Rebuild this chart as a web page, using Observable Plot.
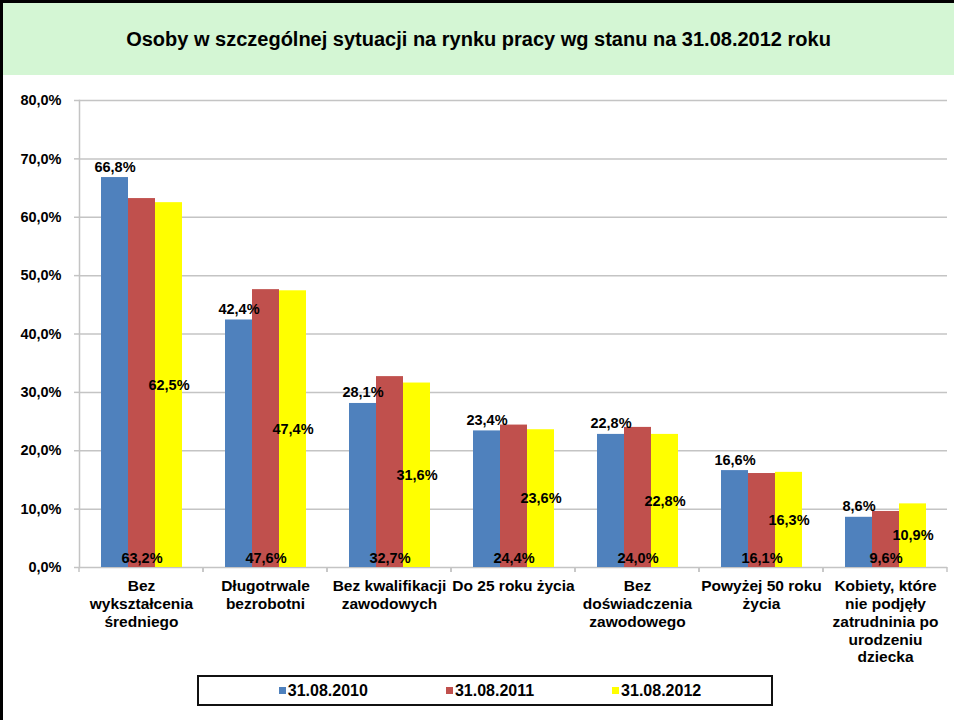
<!DOCTYPE html>
<html><head><meta charset="utf-8">
<script src="https://cdn.jsdelivr.net/npm/d3@7"></script>
<script src="https://cdn.jsdelivr.net/npm/@observablehq/plot@0.6"></script>
<style>
html,body{margin:0;padding:0;background:#fff;overflow:hidden;}
#wrap{position:relative;width:954px;height:720px;box-sizing:border-box;border-left:3px solid #000;border-top:3px solid #000;font-family:"Liberation Sans",Arial,sans-serif;color:#000;}
#title{height:72px;background:#d4f6d4;display:flex;align-items:center;justify-content:center;font-weight:bold;font-size:20px;}
#chart svg{display:block;}
#legend{position:absolute;left:194px;top:672px;width:576px;height:31px;box-sizing:border-box;border:2px solid #111;display:flex;align-items:center;justify-content:center;gap:78px;padding-left:10px;font-weight:bold;font-size:16px;}
#legend .it{display:flex;align-items:center;}
#legend .sw{width:7px;height:7px;margin-right:2px;display:inline-block;}
</style></head>
<body>
<div id="wrap">
  <div id="title">Osoby w szczególnej sytuacji na rynku pracy wg stanu na 31.08.2012 roku</div>
  <div id="chart"></div>
  <div id="legend"></div>
</div>
<script>
const categories = [
  "Bez wykształcenia średniego",
  "Długotrwale bezrobotni",
  "Bez kwalifikacji zawodowych",
  "Do 25 roku życia",
  "Bez doświadczenia zawodowego",
  "Powyżej 50 roku życia",
  "Kobiety, które nie podjęły zatrudninia po urodzeniu dziecka"
];
const tickLabels = [
  "Bez\nwykształcenia\nśredniego",
  "Długotrwale\nbezrobotni",
  "Bez kwalifikacji\nzawodowych",
  "Do 25 roku życia",
  "Bez\ndoświadczenia\nzawodowego",
  "Powyżej 50 roku\nżycia",
  "Kobiety, które\nnie podjęły\nzatrudninia po\nurodzeniu\ndziecka"
];
const series = ["31.08.2010", "31.08.2011", "31.08.2012"];
const colors = ["#4F81BD", "#C0504D", "#FFFF00"];
const values2010 = [66.8, 42.4, 28.1, 23.4, 22.8, 16.6, 8.6];
const values2011 = [63.2, 47.6, 32.7, 24.4, 24.0, 16.1, 9.6];
const values2012 = [62.5, 47.4, 31.6, 23.6, 22.8, 16.3, 10.9];
const yTicks = [0, 10, 20, 30, 40, 50, 60, 70, 80];

const seriesValues = [values2010, values2011, values2012];
const rows = categories.flatMap((c, i) =>
  series.map((s, j) => ({category: c, series: s, value: seriesValues[j][i]})));
const fmt = v => v.toFixed(1).replace(".", ",") + "%";
const labelOf = new Map(categories.map((c, i) => [c, tickLabels[i]]));
const gridColor = "#c4c4c4";

function boundaryTicks(index, scales, values, dims) {
  const ns = "http://www.w3.org/2000/svg";
  const g = document.createElementNS(ns, "g");
  const r = (scales.x && scales.x.range) ? scales.x.range() : [dims.marginLeft, dims.width - dims.marginRight];
  const y0 = scales.y(0);
  for (const xv of r) {
    const l = document.createElementNS(ns, "line");
    l.setAttribute("x1", xv); l.setAttribute("x2", xv);
    l.setAttribute("y1", y0); l.setAttribute("y2", y0 + 5);
    l.setAttribute("stroke", gridColor); l.setAttribute("stroke-width", 1.5);
    g.appendChild(l);
  }
  return g;
}

const chart = Plot.plot({
  width: 951, height: 598,
  marginLeft: 75, marginRight: 6, marginTop: 25, marginBottom: 106,
  style: {fontFamily: '"Liberation Sans", Arial, sans-serif', fontWeight: "bold", fontSize: "14.5px", color: "#000", background: "#fff", overflow: "visible"},
  fx: {domain: categories, padding: 0},
  x: {domain: series, paddingInner: 0, paddingOuter: 0.745, axis: null},
  y: {domain: [0, 80]},
  color: {domain: series, range: colors},
  marks: [
    Plot.gridY(yTicks, {stroke: gridColor, strokeOpacity: 1, strokeWidth: 1.5}),
    Plot.frame({anchor: "left", facet: "super", stroke: gridColor, strokeWidth: 1.5}),
    Plot.axisY(yTicks, {tickFormat: fmt, tickSize: 5, tickPadding: 13, stroke: gridColor, strokeWidth: 1.5, fontSize: 14.5, label: null}),
    Plot.barY(rows, {fx: "category", x: "series", y: "value", fill: "series"}),
    Plot.text(rows.filter(d => d.series === series[0]), {fx: "category", x: "series", y: "value", text: d => fmt(d.value), lineAnchor: "bottom", dy: -6, fill: "#000"}),
    Plot.text(rows.filter(d => d.series === series[1]), {fx: "category", x: "series", y: () => 0, text: d => fmt(d.value), lineAnchor: "bottom", dy: -5, fill: "#000"}),
    Plot.text(rows.filter(d => d.series === series[2]), {fx: "category", x: "series", y: d => d.value / 2, text: d => fmt(d.value), lineAnchor: "middle", fill: "#000"}),
    Plot.axisFx({anchor: "bottom", tickSize: 0, tickPadding: 11, tickFormat: c => labelOf.get(c), fontSize: 15.5, lineHeight: 1.15, label: null}),
    boundaryTicks
  ]
});
document.getElementById("chart").appendChild(chart);

const legend = document.getElementById("legend");
series.forEach((s, i) => {
  const it = document.createElement("span");
  it.className = "it";
  const sw = document.createElement("span");
  sw.className = "sw";
  sw.style.background = colors[i];
  it.appendChild(sw);
  it.appendChild(document.createTextNode(s));
  legend.appendChild(it);
});
</script>
</body></html>
